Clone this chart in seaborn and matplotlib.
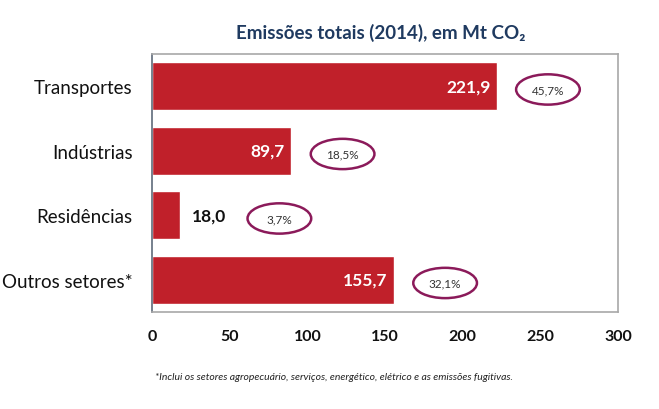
import matplotlib
matplotlib.use("Agg")
import matplotlib.pyplot as plt
from matplotlib.patches import Ellipse
import seaborn as sns
import pandas as pd

categories = ["Transportes", "Indústrias", "Residências", "Outros setores*"]
values = [221.9, 89.7, 18.0, 155.7]
value_labels = ["221,9", "89,7", "18,0", "155,7"]
shares = ["45,7%", "18,5%", "3,7%", "32,1%"]
xticks = [0, 50, 100, 150, 200, 250, 300]
title = "Emissões totais (2014), em Mt CO₂"
footnote = "*Inclui os setores agropecuário, serviços, energético, elétrico e as emissões fugitivas."

sns.set_theme(style="white")
plt.rcParams["font.family"] = ["Lato", "DejaVu Sans"]

df = pd.DataFrame({"setor": categories, "valor": values})

fig = plt.figure(figsize=(6.59, 4.10), dpi=100)
ax = fig.add_axes([152 / 659, 1 - 313 / 410, 466 / 659, 258 / 410])

sns.barplot(data=df, x="valor", y="setor", orient="h", color="#C0202A",
            saturation=1, width=0.75, ax=ax)

ax.set_xlim(0, 300)
ax.set_ylim(3.5, -0.5)
ax.set_xticks(xticks)
ax.set_xticklabels([str(t) for t in xticks], fontsize=11.5, fontweight="bold", color="#111111")
ax.tick_params(axis="x", length=0, pad=12)
ax.tick_params(axis="y", length=0, pad=14, labelsize=13.5, labelcolor="#111111")
ax.set_xlabel("")
ax.set_ylabel("")

for name, sp in ax.spines.items():
    sp.set_visible(True)
    sp.set_color("#A8A8A8")
    sp.set_linewidth(1.2)
ax.spines["left"].set_color("#5F6B7A")

for i, (v, lab, sh) in enumerate(zip(values, value_labels, shares)):
    if v > 50:
        ax.text(v - 4, i, lab, ha="right", va="center", color="white",
                fontsize=12.5, fontweight="bold")
        cx = v + 33
    else:
        ax.text(v + 8, i, lab, ha="left", va="center", color="#111111",
                fontsize=12.5, fontweight="bold")
        cx = v + 64
    ax.add_patch(Ellipse((cx, i + 0.05), 41, 0.47, fill=False,
                         edgecolor="#8B1A5A", linewidth=1.8, clip_on=False))
    ax.text(cx, i + 0.05, sh, ha="center", va="center", fontsize=8.5,
            color="#333333")

fig.text(381 / 659, 1 - 33 / 410, title, ha="center", va="center",
         fontsize=13.5, fontweight="bold", color="#1F3A60",
         family=["Lato", "DejaVu Sans"])
fig.text(155 / 659, 1 - 378 / 410, footnote, ha="left", va="center",
         fontsize=7.5, style="italic", color="#222222")

fig.savefig("out.png", dpi=100)
